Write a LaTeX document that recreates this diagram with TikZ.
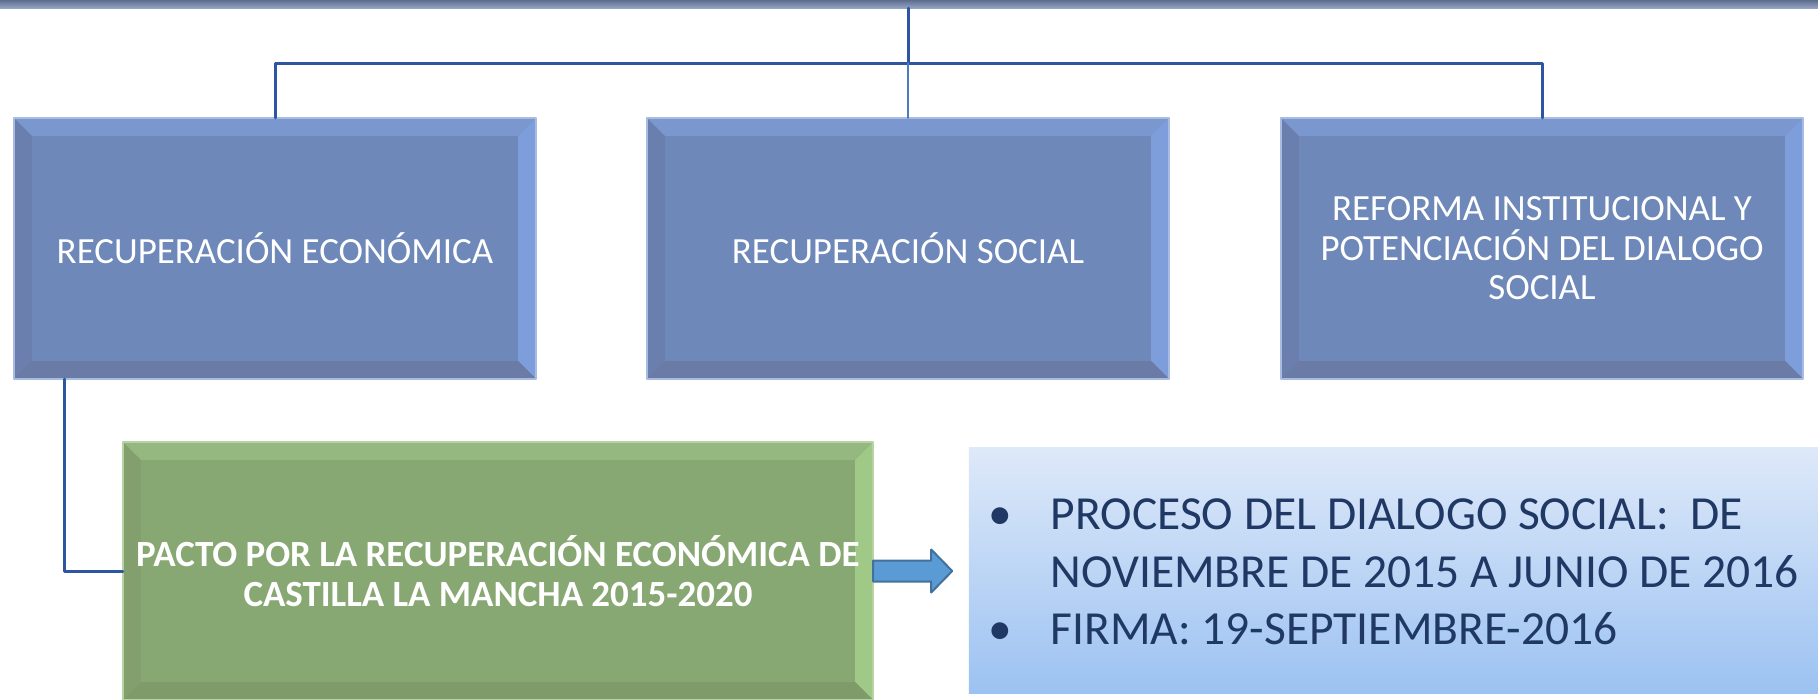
\documentclass[tikz,border=0pt]{standalone}
\usepackage{fontspec}
\setmainfont{Carlito}
\usepackage{tikz}
\usetikzlibrary{calc}
\definecolor{bandatop}{HTML}{5D6D8E}
\definecolor{bandabot}{HTML}{95A4C4}
\definecolor{lineaazul}{HTML}{2E56A0}
\definecolor{lineaclara}{HTML}{4C7CBC}
\definecolor{azulcaja}{HTML}{6E88BA}
\definecolor{azulsup}{HTML}{7A97CF}
\definecolor{azulizq}{HTML}{6A7FAD}
\definecolor{azulder}{HTML}{7E9EDB}
\definecolor{azulinf}{HTML}{6A7CA6}
\definecolor{azulborde}{HTML}{A8BCE2}
\definecolor{verdecaja}{HTML}{88A873}
\definecolor{verdesup}{HTML}{95B880}
\definecolor{verdeizq}{HTML}{839F6E}
\definecolor{verdeder}{HTML}{A0C987}
\definecolor{verdeinf}{HTML}{7F9B6A}
\definecolor{verdeborde}{HTML}{B7D2A5}
\definecolor{celestetop}{HTML}{DEE9F9}
\definecolor{celestebot}{HTML}{9CC2F2}
\definecolor{flechazul}{HTML}{5B9BD5}
\definecolor{flechaborde}{HTML}{41719C}
\definecolor{textonavy}{HTML}{203864}
\tikzstyle{every node}=[font=\fontsize{10.5}{11.2}\selectfont,inner sep=0pt,outer sep=0pt]
\tikzset{
  bisel/.style n args={4}{path picture={
      \path (path picture bounding box.north west) coordinate (nw)
            (path picture bounding box.north east) coordinate (ne)
            (path picture bounding box.south west) coordinate (sw)
            (path picture bounding box.south east) coordinate (se);
      \fill[#1] (nw) -- (ne) -- ($(ne)+(-18,18)$) -- ($(nw)+(18,18)$) -- cycle;
      \fill[#2] (nw) -- ($(nw)+(18,18)$) -- ($(sw)+(18,-18)$) -- (sw) -- cycle;
      \fill[#3] (ne) -- (se) -- ($(se)+(-18,-18)$) -- ($(ne)+(-18,18)$) -- cycle;
      \fill[#4] (sw) -- ($(sw)+(18,-18)$) -- ($(se)+(-18,-18)$) -- (se) -- cycle;
  }},
  caja azul/.style={fill=azulcaja,draw=azulborde,line width=0.015cm,
    bisel={azulsup}{azulizq}{azulder}{azulinf},
    minimum width=5.22cm,minimum height=2.61cm,text=white,align=center},
  caja verde/.style={fill=verdecaja,draw=verdeborde,line width=0.015cm,
    bisel={verdesup}{verdeizq}{verdeder}{verdeinf},
    minimum width=7.5cm,minimum height=2.58cm,text=white,align=center,
    font=\bfseries\fontsize{10.5}{11.6}\selectfont},
  conector/.style={draw=lineaazul,line width=0.03cm},
  conector fino/.style={draw=lineaclara,line width=0.02cm},
  flecha/.style={fill=flechazul,draw=flechaborde,line width=0.02cm}
}

\begin{document}
\begin{tikzpicture}[line cap=round,line join=round,x=0.01cm,y=-0.01cm]
  \useasboundingbox (0,0) rectangle (1818,699);
  % banda superior
  \shade[top color=bandatop,bottom color=bandabot] (0,0) rectangle (1818,8);
  \coordinate (raiz) at (908,8);
  \coordinate (nudo) at (908,63);
  % cajas
  \node[caja azul] (eco) at (275,248.5) {RECUPERACIÓN ECONÓMICA};
  \node[caja azul] (social) at (908,248.5) {RECUPERACIÓN SOCIAL};
  \node[caja azul] (reforma) at (1542,248.5) {REFORMA INSTITUCIONAL Y\\POTENCIACIÓN DEL DIALOGO\\SOCIAL};
  \node[caja verde] (pacto) at (498,571) {PACTO POR LA RECUPERACIÓN ECONÓMICA DE\\CASTILLA LA MANCHA 2015-2020};
  \node[shade,top color=celestetop,bottom color=celestebot,minimum width=8.49cm,minimum height=2.45cm] (proceso) at (1393.5,570.5) {};
  \node[anchor=west,text=textonavy,font=\fontsize{13.5}{16.4}\selectfont] (lista) at ($(proceso.west)+(20,5)$)
    {\begin{tabular}{@{}p{0.62cm}@{}l@{}}
      \textbullet & PROCESO DEL DIALOGO SOCIAL:\ \ DE\\
                  & NOVIEMBRE DE 2015 A JUNIO DE 2016\\
      \textbullet & FIRMA: 19-SEPTIEMBRE-2016
    \end{tabular}};
  % conectores
  \draw[conector] (raiz) -- (nudo);
  \draw[conector] (eco.north) |- (nudo) -| (reforma.north);
  \draw[conector fino] (nudo) -- (social.north);
  \draw[conector] ($(eco.south west)+(51,0)$) |- (pacto.west);
  \draw[flecha] ($(pacto.east)+(0,-10.5)$) -- ++(58,0) -- ++(0,-11) -- ($(pacto.east)+(79,0)$)
    -- ($(pacto.east)+(58,21.5)$) -- ++(0,-11) -- ($(pacto.east)+(0,10.5)$) -- cycle;
\end{tikzpicture}
\end{document}
